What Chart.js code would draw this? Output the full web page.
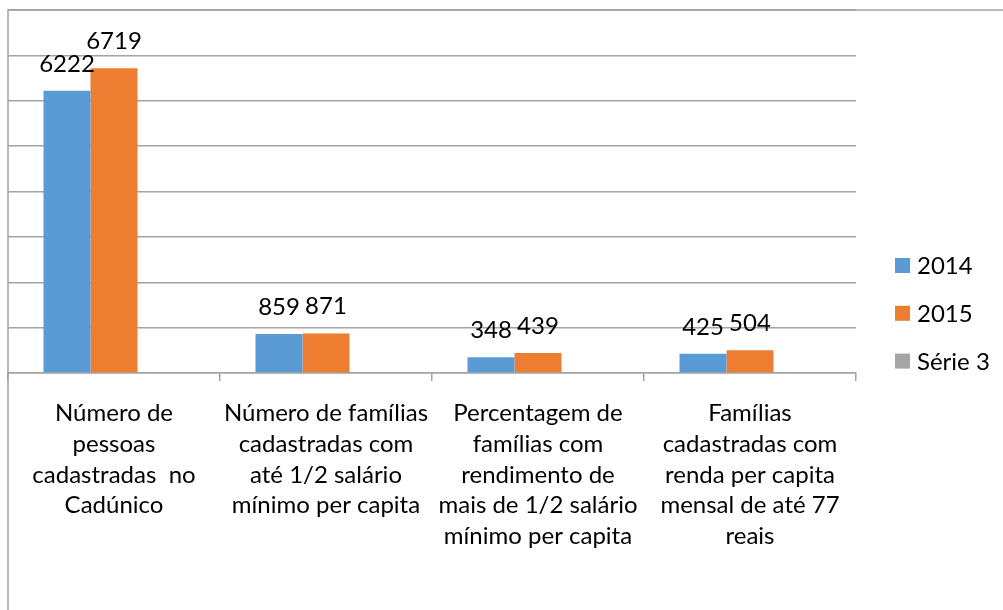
<!DOCTYPE html>
<html>
<head>
<meta charset="utf-8">
<script src="https://cdn.jsdelivr.net/npm/chart.js@4/dist/chart.umd.min.js"></script>
<style>
  html, body { margin: 0; padding: 0; background: #ffffff; }
  #wrap { width: 1003px; height: 610px; position: relative; }
</style>
</head>
<body>
<div id="wrap"><canvas id="c" width="1003" height="610"></canvas></div>
<script>
// ---- data ----
const categories = [
  ["Número de", "pessoas", "cadastradas  no", "Cadúnico"],
  ["Número de famílias", "cadastradas com", "até 1/2 salário", "mínimo per capita"],
  ["Percentagem de", "famílias com", "rendimento de", "mais de 1/2 salário", "mínimo per capita"],
  ["Famílias", "cadastradas com", "renda per capita", "mensal de até 77", "reais"]
];
const seriesNames = ["2014", "2015", "Série 3"];
const values2014 = [6222, 859, 348, 425];
const values2015 = [6719, 871, 439, 504];
const valuesSerie3 = [null, null, null, null];
const yMin = 0;
const yMax = 8000;
const yStep = 1000;

// ---- styles ----
const FONT = "Lato";
const colors = ["#5B9BD5", "#ED7D31", "#A5A5A5"];
const gridColor = "#a3a3a3";

const valueLabels = {
  id: "valueLabels",
  afterDatasetsDraw(chart) {
    const ctx = chart.ctx;
    ctx.save();
    ctx.font = "24px " + FONT;
    ctx.fillStyle = "#000000";
    ctx.textAlign = "center";
    ctx.textBaseline = "alphabetic";
    chart.data.datasets.forEach((ds, i) => {
      const meta = chart.getDatasetMeta(i);
      meta.data.forEach((el, j) => {
        const v = ds.data[j];
        if (v === null || v === undefined) return;
        ctx.fillText(String(v), el.x, el.y - 19);
      });
    });
    ctx.restore();
  }
};

const frameAndLegend = {
  id: "frameAndLegend",
  afterDraw(chart) {
    const ctx = chart.ctx;
    const area = chart.chartArea;
    ctx.save();
    ctx.strokeStyle = gridColor;
    ctx.lineWidth = 1.5;
    ctx.beginPath();
    ctx.moveTo(area.left, chart.height);
    ctx.lineTo(area.left, area.top);
    ctx.lineTo(chart.width, area.top);
    ctx.stroke();
    // legend
    ctx.font = "24px " + FONT;
    ctx.textAlign = "left";
    ctx.textBaseline = "middle";
    chart.data.datasets.forEach((ds, i) => {
      const cy = 265.5 + i * 47.8;
      ctx.fillStyle = ds.backgroundColor;
      ctx.fillRect(895, cy - 7.5, 15, 15);
      ctx.fillStyle = "#000000";
      ctx.fillText(ds.label, 917, cy + 1);
    });
    ctx.restore();
  }
};

function start() {
  new Chart(document.getElementById("c"), {
    type: "bar",
    data: {
      labels: categories,
      datasets: [
        { label: seriesNames[0], data: values2014, backgroundColor: colors[0] },
        { label: seriesNames[1], data: values2015, backgroundColor: colors[1] },
        { label: seriesNames[2], data: valuesSerie3, backgroundColor: colors[2] }
      ]
    },
    options: {
      responsive: false,
      animation: false,
      devicePixelRatio: 1,
      layout: { padding: { top: 10, right: 147, left: 0, bottom: 0 } },
      datasets: { bar: { categoryPercentage: 0.665, barPercentage: 1.0, borderWidth: 0 } },
      plugins: { legend: { display: false }, tooltip: { enabled: false } },
      scales: {
        x: {
          grid: { display: true, drawOnChartArea: false, drawTicks: true, tickLength: 8, color: gridColor, lineWidth: 1.5 },
          border: { display: true, color: gridColor, width: 1.5 },
          ticks: {
            autoSkip: false, maxRotation: 0, minRotation: 0, padding: 17,
            color: "#000000",
            font: { family: FONT, size: 24, lineHeight: 1.28 }
          },
          afterFit(scale) { scale.height = 237; }
        },
        y: {
          min: yMin, max: yMax,
          grid: { color: gridColor, lineWidth: 1.5, drawTicks: false },
          border: { display: false },
          ticks: { display: false, stepSize: yStep },
          afterFit(scale) { scale.width = 8; }
        }
      }
    },
    plugins: [valueLabels, frameAndLegend]
  });
}
if (document.fonts && document.fonts.load) {
  document.fonts.load("24px " + FONT).then(start, start);
} else { start(); }
</script>
</body>
</html>
